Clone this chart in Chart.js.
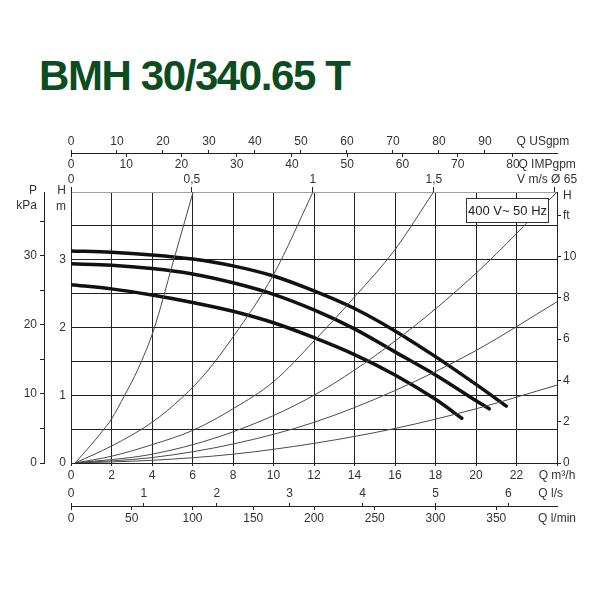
<!DOCTYPE html>
<html lang="en">
<head>
  <meta charset="UTF-8">
  <title>BMH 30/340.65 T</title>
  <script src="https://cdn.jsdelivr.net/npm/chart.js"></script>
  <style>
    body { margin: 0; background: #fff; }
    #wrap { position: relative; width: 600px; height: 600px; }
    #title {
      position: absolute; left: 39px; top: 55px;
      font: bold 42px 'Liberation Sans', Arial, sans-serif;
      line-height: 42px; letter-spacing: -1.4px; color: #0c4d1f; white-space: nowrap;
    }
    canvas { position: absolute; left: 0; top: 0; }
  </style>
</head>
<body>
<div id="wrap">
  <div id="title">BMH 30/340.65 T</div>
  <canvas id="pumpChart" width="600" height="600"></canvas>
</div>

<script>
  // pump curves: Q in m3/h, H in m
  const topQ = [0, 2, 4, 6, 8, 10, 12, 14, 16, 18, 20, 21.5];
  const topH = [3.13, 3.11, 3.07, 3.01, 2.91, 2.76, 2.54, 2.28, 1.95, 1.57, 1.16, 0.84];
  const midQ = [0, 2, 4, 6, 8, 10, 12, 14, 16, 18, 20, 20.65];
  const midH = [2.94, 2.92, 2.87, 2.79, 2.66, 2.49, 2.26, 1.98, 1.64, 1.3, 0.92, 0.8];
  const lowQ = [0, 2, 4, 6, 8, 10, 12, 14, 16, 18, 19.3];
  const lowH = [2.63, 2.57, 2.48, 2.37, 2.24, 2.07, 1.85, 1.6, 1.3, 0.94, 0.66];

  // system (pipe) curves
  const sys1Q = [0.2, 1, 1.55, 2, 2.65, 3.3, 4.1, 5, 6.03];
  const sys1H = [0, 0.27, 0.47, 0.65, 1, 1.38, 1.98, 2.92, 4];
  const sys2Q = [0.2, 2, 4, 5.5, 6.66, 8, 10, 11.95];
  const sys2H = [0, 0.25, 0.6, 0.97, 1.33, 1.86, 2.78, 4];
  const sys3Q = [0.2, 2, 4, 6, 8, 10, 12, 14, 16, 17.9];
  const sys3H = [0, 0.1, 0.27, 0.48, 0.8, 1.2, 1.8, 2.45, 3.15, 4];
  const sys4Q = [0.2, 4, 8, 12, 16, 20, 24];
  const sys4H = [0, 0.13, 0.46, 1, 1.8, 2.8, 4];
  const sys5Q = [0.2, 4, 8, 12, 16, 20, 24];
  const sys5H = [0, 0.08, 0.28, 0.6, 1.07, 1.66, 2.38];
  const sys6Q = [0.2, 4, 8, 12, 16, 20, 24];
  const sys6H = [0, 0.04, 0.13, 0.29, 0.51, 0.8, 1.15];

  // tick labels of the extra axes
  const usgpmTicks = [0, 10, 20, 30, 40, 50, 60, 70, 80, 90];
  const impgpmTicks = [0, 10, 20, 30, 40, 50, 60, 70, 80];
  const velTicks = [0, 0.5, 1, 1.5];
  const velLabels = ['0', '0,5', '1', '1,5'];
  const lsTicks = [0, 1, 2, 3, 4, 5, 6];
  const lminTicks = [0, 50, 100, 150, 200, 250, 300, 350];
  const kpaTicks = [0, 5, 10, 15, 20, 25, 30, 35];
  const ftTicks = [0, 2, 4, 6, 8, 10];

  // unit conversions from Q m3/h and H m
  const QMAX = 24, HMAX = 4;
  const M3H_USGPM = 4.40287, M3H_IMPGPM = 3.66615;
  const M3H_PER_MS = 3600 * Math.PI * 0.065 * 0.065 / 4;   // DN65
  const KPA_PER_M = 9.80665, M_PER_FT = 0.3048;

  const INK = '#222';
  const LABEL = '#333';
  const hidden = 'rgba(0,0,0,0)';

  Chart.defaults.font.family = "'Liberation Sans', Arial, sans-serif";
  Chart.defaults.font.size = 12;
  Chart.defaults.color = LABEL;

  const toPts = (qs, hs) => qs.map((q, i) => ({ x: q, y: hs[i] }));

  // ticks: [value, text, showMark]
  function tickList(list) {
    return (scale) => {
      scale.ticks = list.map(t => ({ value: t[0], txt: t[1], mark: t[2] !== false }));
    };
  }
  const tickText = (v, i, ts) => ts[i].txt;
  const markColor = (c) => (c.tick && c.tick.mark ? INK : hidden);

  // y value (H m) at a canvas row, used to hang the extra Q axes above/below the plot
  const rowH = (py) => (463 - py) * HMAX / 271;

  function extraX(min, max, list, py, tl, pad, border) {
    return {
      type: 'linear', axis: 'x', position: { y: rowH(py) }, min: min, max: max,
      afterBuildTicks: tickList(list),
      ticks: { autoSkip: false, maxRotation: 0, minRotation: 0, padding: pad, callback: tickText },
      grid: { drawOnChartArea: false, drawTicks: true, tickLength: tl, tickColor: markColor },
      border: { display: border, color: INK, width: 1 }
    };
  }

  const sysStyle = { borderColor: '#4a4a4a', borderWidth: 1 };
  const pumpStyle = { borderColor: '#111', borderWidth: 3.5, borderCapStyle: 'round' };

  const noteBox = {
    id: 'noteBox',
    afterDatasetsDraw(chart) {
      const { ctx } = chart;
      const x = chart.scales.x, y = chart.scales.y;
      const l = Math.round(x.getPixelForValue(19.5)) + 0.5;
      const r = Math.round(x.getPixelForValue(23.55)) + 0.5;
      const t = Math.round(y.getPixelForValue(3.91)) + 0.5;
      const b = Math.round(y.getPixelForValue(3.56)) + 0.5;
      ctx.save();
      ctx.fillStyle = '#fff';
      ctx.fillRect(l, t, r - l, b - t);
      ctx.strokeStyle = '#333';
      ctx.lineWidth = 1;
      ctx.strokeRect(l, t, r - l, b - t);
      ctx.fillStyle = '#222';
      ctx.font = "13px 'Liberation Sans', Arial, sans-serif";
      ctx.textAlign = 'center';
      ctx.textBaseline = 'middle';
      ctx.fillText('400 V~ 50 Hz', (l + r) / 2, (t + b) / 2 + 1);
      ctx.restore();
    }
  };

  const ctx = document.getElementById('pumpChart').getContext('2d');
  const pumpChart = new Chart(ctx, {
    type: 'line',
    data: {
      datasets: [
        { data: toPts(sys1Q, sys1H), ...sysStyle },
        { data: toPts(sys2Q, sys2H), ...sysStyle },
        { data: toPts(sys3Q, sys3H), ...sysStyle },
        { data: toPts(sys4Q, sys4H), ...sysStyle },
        { data: toPts(sys5Q, sys5H), ...sysStyle },
        { data: toPts(sys6Q, sys6H), ...sysStyle },
        { data: toPts(topQ, topH), ...pumpStyle },
        { data: toPts(midQ, midH), ...pumpStyle },
        { data: toPts(lowQ, lowH), ...pumpStyle }
      ]
    },
    options: {
      responsive: false,
      animation: false,
      layout: { padding: { left: 4, right: 13, top: 192, bottom: 115 } },
      elements: {
        point: { radius: 0 },
        line: { cubicInterpolationMode: 'monotone', fill: false }
      },
      plugins: { legend: { display: false }, tooltip: { enabled: false }, title: { display: false } },
      scales: {
        x: {
          type: 'linear', position: 'bottom', min: 0, max: QMAX,
          afterFit: (s) => { s.height = 22; },
          ticks: {
            stepSize: 2, autoSkip: false, maxRotation: 0, padding: 2,
            callback: (v) => (v === QMAX ? 'Q m³/h' : String(v))
          },
          grid: { color: INK, lineWidth: 1, tickLength: 3, tickColor: INK },
          border: { color: INK, width: 1 }
        },
        y: {
          type: 'linear', position: 'left', weight: 0, min: 0, max: HMAX,
          afterFit: (s) => { s.width = 27; },
          afterBuildTicks: tickList([
            [0, '0'], [0.5, ''], [1, '1'], [1.5, ''], [2, '2'], [2.5, ''], [3, '3'], [3.5, ''], [4, ''],
            [3.79, 'm', false], [4.015, 'H', false]
          ]),
          ticks: { autoSkip: false, padding: 5, callback: tickText },
          grid: {
            drawTicks: false,
            color: (c) => (!c.tick || !c.tick.mark ? hidden : (c.tick.value === HMAX ? '#a0a0a0' : INK))
          },
          border: { color: INK, width: 1 }
        },
        kpa: {
          type: 'linear', axis: 'y', position: 'left', weight: 1, min: 0, max: HMAX * KPA_PER_M,
          afterFit: (s) => { s.width = 40; },
          afterBuildTicks: tickList(kpaTicks.map(v => [v, v % 10 === 0 ? String(v) : ''])
            .concat([[37.2, 'kPa', false], [39.4, 'P', false]])),
          ticks: { autoSkip: false, padding: 3, callback: tickText },
          grid: { drawOnChartArea: false, tickLength: 4, tickColor: markColor },
          border: { color: INK, width: 1 }
        },
        ft: {
          type: 'linear', axis: 'y', position: 'right', min: 0, max: HMAX / M_PER_FT,
          afterFit: (s) => { s.width = 30; },
          afterBuildTicks: tickList(ftTicks.map(v => [v, String(v)])
            .concat([[12, 'ft'], [12.95, 'H', false]])),
          ticks: { autoSkip: false, padding: 2, callback: tickText },
          grid: { drawOnChartArea: false, tickLength: 4, tickColor: markColor },
          border: { color: INK, width: 1 }
        },
        xUS: extraX(0, QMAX * M3H_USGPM,
          usgpmTicks.map(v => [v, String(v)]).concat([[102.6, 'Q USgpm', false]]),
          153, -4, -14.2, true),
        xIMP: extraX(0, QMAX * M3H_IMPGPM,
          impgpmTicks.map(v => [v, String(v)]).concat([[86.2, 'Q IMPgpm', false]]),
          153, 4, 0, false),
        xV: extraX(0, QMAX / M3H_PER_MS,
          velTicks.map((v, i) => [v, velLabels[i]]).concat([[1.968, 'V m/s Ø 65', false], [2, '']]),
          192, -5, -14.2, false),
        xLS: extraX(0, QMAX / 3.6,
          lsTicks.map(v => [v, String(v)]).concat([[6.58, 'Q l/s', false]]),
          506, -4, -15.2, true),
        xLM: extraX(0, QMAX * 1000 / 60,
          lminTicks.map(v => [v, String(v)]).concat([[400, 'Q l/min', false]]),
          506, 4, 1.8, false)
      }
    },
    plugins: [noteBox]
  });
</script>
</body>
</html>
